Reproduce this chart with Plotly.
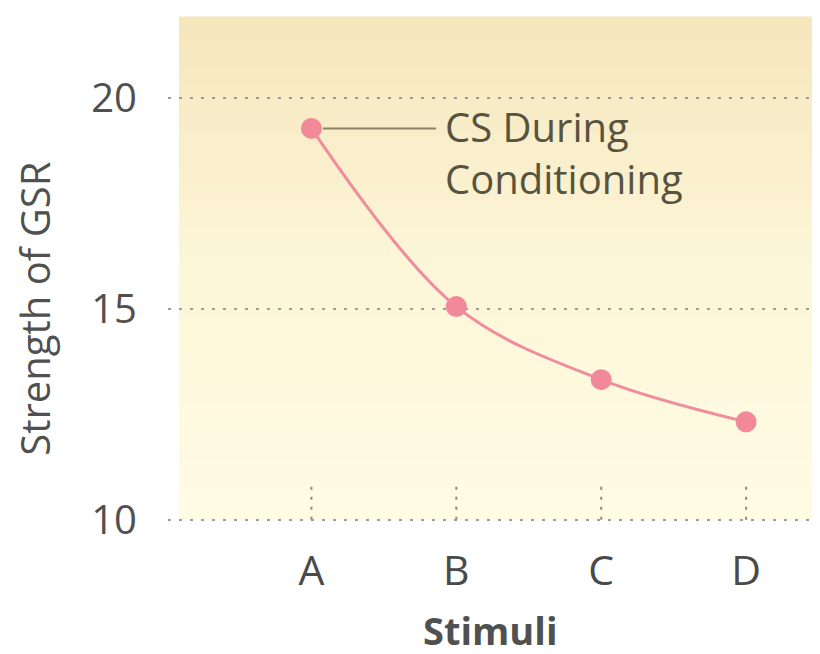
import plotly.graph_objects as go

stimuli = ["A", "B", "C", "D"]
gsr_strength = [19.27, 15.05, 13.32, 12.32]
y_ticks = [10, 15, 20]
series_label = "CS During<br>Conditioning"

OFF = 8  # page body margin
W, H = 820 - OFF, 654 - OFF
ML, MR, MT, MB = 168 - OFF, 0, 17 - OFF, 654 - 524
FONT = "Open Sans"

def px_x(p):
    return (p - OFF - ML) / (W - ML - MR)

plot_h = H - MT - MB
def px_y(p):
    return (H - MB - (p - OFF)) / plot_h

fig = go.Figure()

fig.add_trace(go.Scatter(
    x=stimuli, y=gsr_strength, mode="lines+markers",
    line=dict(color="#f08c9c", width=3, shape="spline", smoothing=1.0),
    marker=dict(color="#f2899a", size=21),
    showlegend=False, hoverinfo="x+y",
))

shapes = []
# gradient background
x0p, x1p = px_x(179), px_x(815)
ytop, ybot = px_y(17), px_y(520)
n = 60
top_c = (245, 230, 188)
mid_c = (253, 246, 216)
bot_c = (255, 252, 228)
def lerp(a, b, t):
    return tuple(int(round(a[i] + (b[i] - a[i]) * t)) for i in range(3))
for i in range(n):
    t0, t1 = i / n, (i + 1) / n
    tm = (t0 + t1) / 2
    c = lerp(top_c, mid_c, tm / 0.5) if tm < 0.5 else lerp(mid_c, bot_c, (tm - 0.5) / 0.5)
    ya = ytop - t0 * (ytop - ybot)
    yb = ytop - t1 * (ytop - ybot)
    shapes.append(dict(type="rect", xref="paper", yref="paper",
                       x0=x0p, x1=x1p, y0=yb, y1=ya + 0.001,
                       fillcolor="rgb(%d,%d,%d)" % c, line=dict(width=0), layer="below"))

# short dotted vertical ticks
for cat in stimuli:
    shapes.append(dict(type="line", xref="x", yref="y", x0=cat, x1=cat,
                       y0=10, y1=10.78, line=dict(color="#8f8a72", width=2, dash="3px,7px"),
                       layer="below"))

# leader line from the first point to the label
shapes.append(dict(type="line", xref="x", yref="y", x0=0.08, x1=0.86,
                   y0=gsr_strength[0], y1=gsr_strength[0],
                   line=dict(color="#8a8262", width=2)))

fig.update_layout(
    width=W, height=H,
    margin=dict(l=ML, r=MR, t=MT, b=MB),
    paper_bgcolor="white", plot_bgcolor="rgba(0,0,0,0)",
    shapes=shapes,
    font=dict(family=FONT, color="#505050"),
    xaxis=dict(range=[-0.99, 3.51], showgrid=False, zeroline=False, showline=False,
               ticks="outside", ticklen=11, tickcolor="rgba(0,0,0,0)",
               tickfont=dict(size=41, color="#4a4a4a")),
    yaxis=dict(range=[9.9, 21.91], tickvals=y_ticks, showgrid=True,
               gridcolor="#a09d90", gridwidth=2, griddash="3px,8px",
               zeroline=False, showline=False, ticklabelstandoff=30,
               tickfont=dict(size=40, color="#505050")),
    annotations=[
        dict(text=series_label, xref="x", yref="y", x=0.905, y=gsr_strength[0] + 0.74,
             xanchor="left", yanchor="top", align="left", showarrow=False,
             font=dict(size=40, color="#57533f", family=FONT)),
        dict(text="Strength of GSR", xref="paper", yref="y", x=px_x(35), y=15,
             xanchor="center", yanchor="middle", textangle=-90, showarrow=False,
             font=dict(size=40, color="#505050", family=FONT)),
        dict(text="<b>Stimuli</b>", xref="paper", yref="paper", x=px_x(490),
             y=px_y(630), xanchor="center", yanchor="middle", showarrow=False,
             font=dict(size=38, color="#505050", family=FONT)),
    ],
)

fig.write_html("out.html")
